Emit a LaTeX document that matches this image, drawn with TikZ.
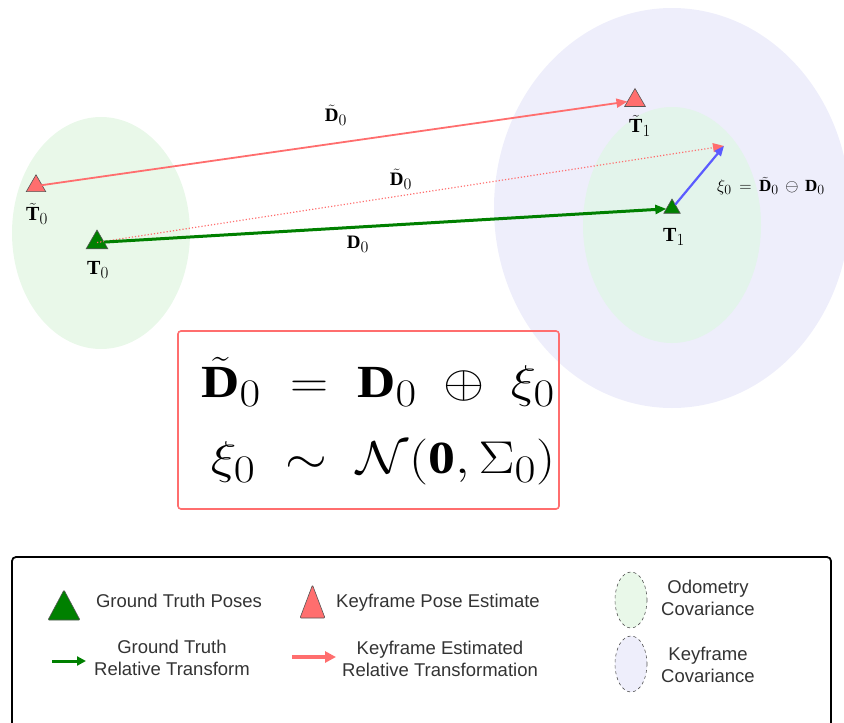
\RequirePackage{fix-cm}
\documentclass[tikz,border=0pt]{standalone}
\usepackage{fontspec}
\setmainfont{Liberation Serif}
\newfontfamily\legendfont{Liberation Sans}
\usetikzlibrary{shapes.geometric,arrows.meta}
\DeclareMathSizes{46}{46}{39}{30}
\DeclareMathSizes{20}{20}{17}{13}
\DeclareMathSizes{19}{19}{16}{12}
\DeclareMathSizes{17}{17}{14}{11}
\definecolor{oddgreen}{HTML}{E9F8E9}
\definecolor{oddgreenB}{HTML}{E3F4EB}
\definecolor{kfpurple}{HTML}{EEEEFB}
\definecolor{estred}{HTML}{FF6E6E}
\definecolor{gtgreen}{HTML}{008000}
\definecolor{errblue}{HTML}{5B5BFF}
\definecolor{edgegray}{HTML}{555555}
\tikzset{
  gtpose/.style={regular polygon, regular polygon sides=3, fill=gtgreen, draw=edgegray, line width=0.6pt, inner sep=0pt, outer sep=0pt},
  estpose/.style={regular polygon, regular polygon sides=3, fill=estred, draw=edgegray, line width=0.6pt, inner sep=0pt, outer sep=0pt},
  poselabel/.style={font=\fontsize{20}{22}\selectfont, inner sep=0pt},
  dlabel/.style={font=\fontsize{19}{21}\selectfont, inner sep=0pt},
  eqtext/.style={font=\fontsize{46}{52}\selectfont, inner sep=0pt},
  legtext/.style={font=\legendfont\fontsize{18.5}{22}\selectfont, text=black!80, align=center, inner sep=0pt},
  tipR/.style={-{Triangle[length=11pt,width=9pt]}},
}
\begin{document}
\begin{tikzpicture}[x=1pt,y=-1pt]
\useasboundingbox (0,0) rectangle (844,723);
% covariance ellipses
\fill[kfpurple] (672,208) ellipse [x radius=178, y radius=200];
\fill[oddgreenB] (672,225) ellipse [x radius=89, y radius=118];
\fill[oddgreen] (101,233) ellipse [x radius=89, y radius=116];
% poses
\node[estpose, minimum size=22.5pt] (T0t) at (36,186) {};
\node[gtpose, minimum size=25pt] (T0) at (97,242.5) {};
\node[estpose, minimum size=24pt] (T1t) at (635,100.5) {};
\node[gtpose, minimum size=19pt] (T1) at (672,208.5) {};
\coordinate (xiend) at (724,146);
% labels
\node[poselabel] (lT0t) at (37,214) {$\tilde{\mathbf{T}}_0$};
\node[poselabel] (lT0) at (98,270) {$\mathbf{T}_0$};
\node[poselabel] (lT1t) at (640,126) {$\tilde{\mathbf{T}}_1$};
\node[poselabel] (lT1) at (674,237) {$\mathbf{T}_1$};
% connectors
\draw[estred, line width=1.8pt, tipR, shorten <=-2pt] (T0t) -- (T1t);
\draw[estred, line width=1.2pt, dotted, -{Triangle[length=11pt,width=9pt]}] (T0.center) -- (xiend);
\draw[gtgreen, line width=3pt, -{Triangle[length=11pt,width=9pt]}] (T0) -- (T1);
\draw[errblue, line width=2.2pt, -{Triangle[length=10pt,width=8pt]}] (T1) -- (xiend);
\node[dlabel] (lD0t) at (336,115) {$\tilde{\mathbf{D}}_0$};
\node[dlabel] (lD0tb) at (401,179) {$\tilde{\mathbf{D}}_0$};
\node[dlabel] (lD0) at (358,244) {$\mathbf{D}_0$};
\node[font=\fontsize{17}{19}\selectfont, inner sep=0pt] (lxi) at (771,186) {$\xi_0 \,=\, \tilde{\mathbf{D}}_0 \,\ominus\, \mathbf{D}_0$};
% equation box
\node[draw=estred, line width=1.6pt, rounded corners=3pt, minimum width=381pt, minimum height=178pt, inner sep=0pt] (eqbox) at (368.5,420) {};
\node[eqtext] (eq1) at (378,382) {\scalebox{1.15}[1]{$\tilde{\mathbf{D}}_0 \;=\; \mathbf{D}_0 \;\oplus\; \xi_0$}};
\node[eqtext] (eq2) at (383,462) {\scalebox{1.17}[1]{$\xi_0 \;\sim\; \mathcal{N}(\mathbf{0}, \Sigma_0)$}};
% legend
\draw[black, line width=1.8pt, rounded corners=4pt] (12,557) -- (831,557) -- (831,735) -- (12,735) -- cycle;
\filldraw[fill=gtgreen, draw=edgegray, line width=0.6pt, rounded corners=1pt] (48,620) -- (64,590) -- (80,620) -- cycle;
\node[legtext] (lg1) at (179,601) {Ground Truth Poses};
\filldraw[fill=estred, draw=edgegray, line width=0.6pt, rounded corners=1pt] (300,618) -- (312.5,585) -- (325,618) -- cycle;
\node[legtext] (lg2) at (438,603) {Keyframe Pose Estimate};
\filldraw[fill=oddgreen, draw=edgegray, dashed, line width=0.6pt] (631,600) ellipse [x radius=16, y radius=28];
\node[legtext] (lg3) at (708,598) {Odometry\\Covariance};
\coordinate (ga) at (52,661); \coordinate (gb) at (86,661);
\draw[gtgreen, line width=3pt, -{Triangle[length=9pt,width=9pt]}] (ga) -- (gb);
\node[legtext] (lg4) at (172,658) {Ground Truth\\Relative Transform};
\coordinate (ra) at (292,657); \coordinate (rb) at (336,657);
\draw[estred, line width=4pt, -{Triangle[length=11pt,width=11pt]}] (ra) -- (rb);
\node[legtext] (lg5) at (440,659) {Keyframe Estimated\\Relative Transformation};
\filldraw[fill=kfpurple, draw=edgegray, dashed, line width=0.6pt] (631,664) ellipse [x radius=16, y radius=28];
\node[legtext] (lg6) at (708,665) {Keyframe\\Covariance};
\end{tikzpicture}
\end{document}
